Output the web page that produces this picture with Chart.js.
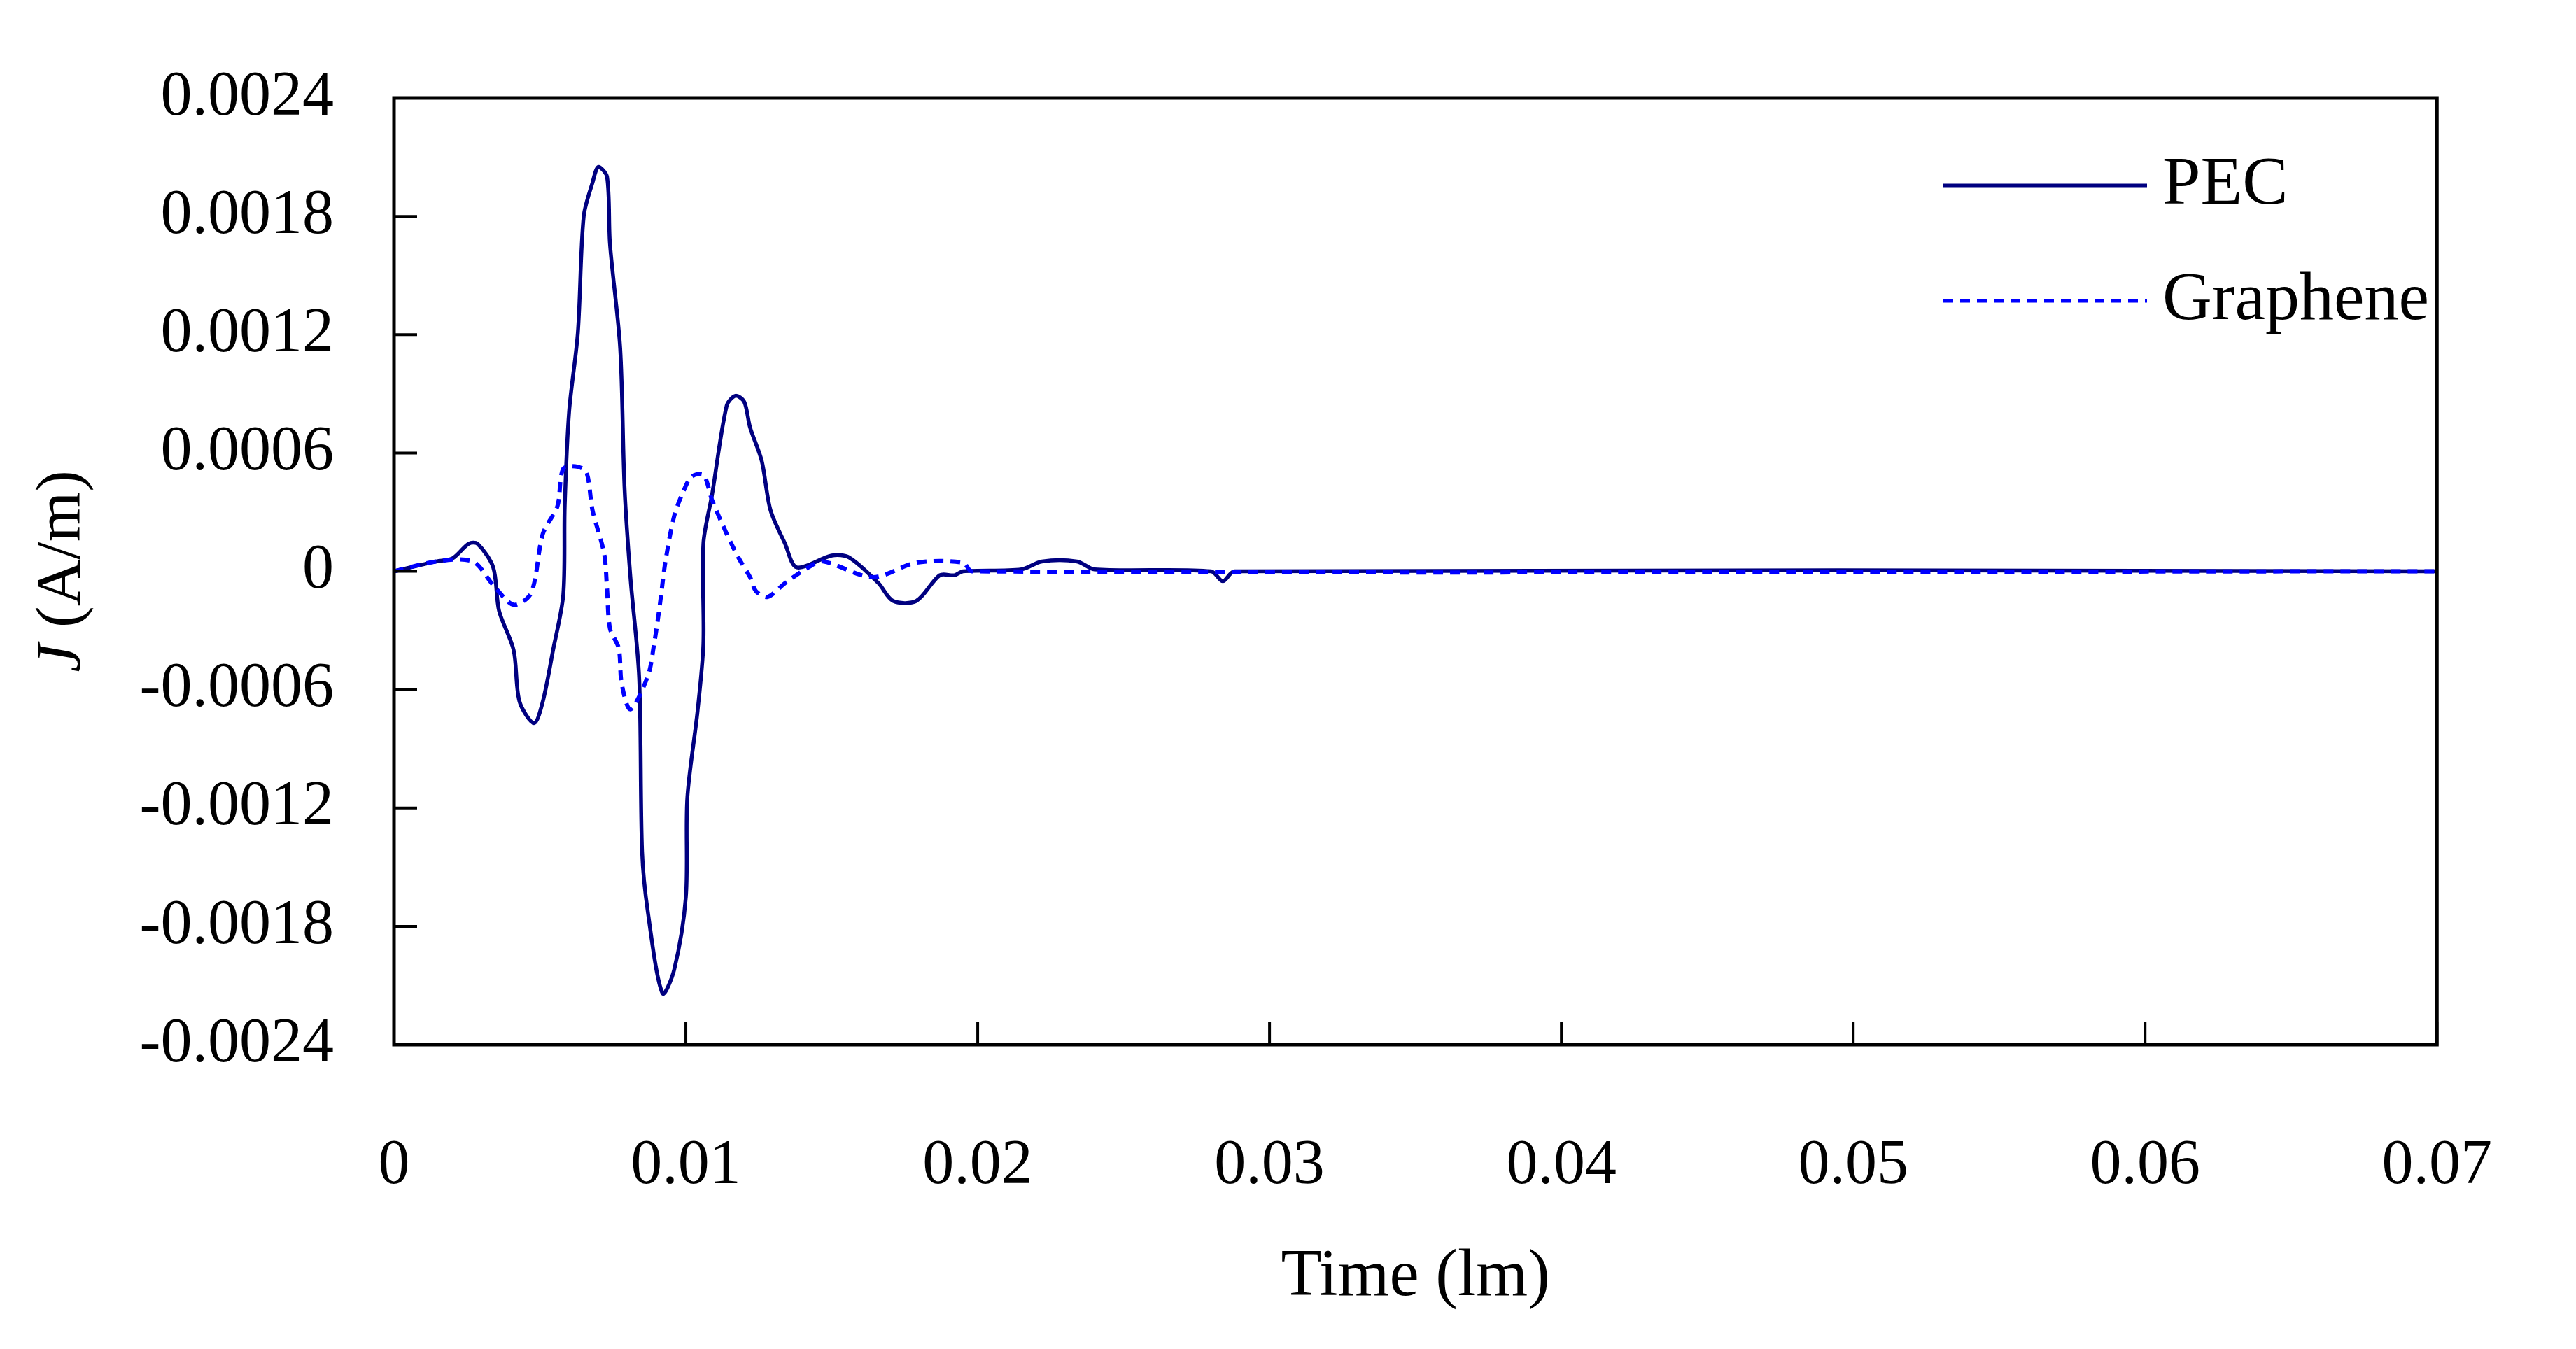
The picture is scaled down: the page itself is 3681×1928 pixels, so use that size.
<!DOCTYPE html>
<html><head><meta charset="utf-8">
<script src="https://cdn.jsdelivr.net/npm/chart.js@4"></script>
<style>html,body{margin:0;padding:0;background:#fff}#w{width:3681px;height:1928px}</style>
</head><body><div id="w"><canvas id="c" width="3681" height="1928"></canvas></div>
<script>
const xTicks = [0,0.01,0.02,0.03,0.04,0.05,0.06,0.07];
const yTicks = [-0.0024,-0.0018,-0.0012,-0.0006,0,0.0006,0.0012,0.0018,0.0024];
const pecT = [0,0.00145,0.002,0.00256,0.00286,0.0034,0.0036,0.0041,0.0043,0.0048,0.0051,0.00545,0.0058,0.00585,0.006,0.0063,0.0065,0.0068,0.007,0.0073,0.0074,0.00775,0.0079,0.0081,0.0084,0.0085,0.0087,0.0092,0.0096,0.01,0.01005,0.0104,0.0106,0.0106,0.0109,0.0114,0.0117,0.012,0.0122,0.0126,0.0129,0.0134,0.0138,0.015,0.0156,0.0166,0.0171,0.0179,0.0187,0.0192,0.0195,0.0215,0.0222,0.0234,0.024,0.028,0.0284,0.0288,0.07];
const pecJ = [0,0.00005,0.000065,0.00014,0.00014,0.00002,-0.0002,-0.0004,-0.00066,-0.00077,-0.00066,-0.0004,-0.00012,0.00033,0.00081,0.00121,0.0018,0.00197,0.00205,0.002,0.00166,0.00113,0.00042,-0.00003,-0.00054,-0.00142,-0.00173,-0.00214,-0.00202,-0.00165,-0.00115,-0.00071,-0.00037,0.00014,0.00039,0.00084,0.00089,0.00086,0.00073,0.00056,0.00031,0.00014,0.00002,0.00008,0.00007,-0.00006,-0.00015,-0.00015,-0.00002,-0.00002,0,0.00001,0.00005,0.00005,0.00001,0,-0.00005,0,0];
const grT = [0,0.00145,0.0027,0.0034,0.0041,0.0047,0.0051,0.0056,0.0058,0.0063,0.0066,0.0068,0.0072,0.0073,0.0074,0.0077,0.0078,0.0081,0.0087,0.0089,0.0091,0.0093,0.0096,0.0099,0.0102,0.0106,0.0109,0.0114,0.0118,0.0122,0.0124,0.0128,0.0134,0.0142,0.0147,0.0164,0.0179,0.0195,0.0198,0.07];
const grJ = [0,0.00005,0.00005,-0.00007,-0.00017,-0.00011,0.00019,0.00033,0.00052,0.00053,0.0005,0.00031,0.00009,-0.00009,-0.00029,-0.00039,-0.00057,-0.0007,-0.00053,-0.00038,-0.00018,0.00005,0.00028,0.0004,0.00048,0.00049,0.00036,0.00019,0.00007,-0.00003,-0.0001,-0.00013,-0.00006,0.00002,0.00005,-0.00003,0.000044,0.000044,0,0];
const seriesNames = ['PEC','Graphene'];
const FONT = '"Liberation Serif", "Times New Roman", serif';
const toPts = (t,v)=>t.map((x,i)=>({x, y:v[i]}));
const fmt = v => v===0 ? '0' : (Math.round(v*1e5)/1e5).toString();

const deco = {
  id:'deco',
  afterDraw(ch){
    const {ctx, chartArea:a, scales:{x,y}} = ch;
    ctx.save();
    ctx.strokeStyle='#000'; ctx.lineWidth=5;
    ctx.strokeRect(a.left,a.top,a.right-a.left,a.bottom-a.top);
    ctx.lineWidth=4;
    yTicks.forEach(v=>{const p=y.getPixelForValue(v);ctx.beginPath();ctx.moveTo(a.left,p);ctx.lineTo(a.left+33,p);ctx.stroke();});
    xTicks.forEach(v=>{const p=x.getPixelForValue(v);ctx.beginPath();ctx.moveTo(p,a.bottom);ctx.lineTo(p,a.bottom-33);ctx.stroke();});
    ctx.fillStyle='#000'; ctx.textBaseline='middle';
    ctx.font='95px '+FONT; ctx.textAlign='center';
    ctx.fillText('Time (lm)',(a.left+a.right)/2,1826);
    ctx.translate(90,(a.top+a.bottom)/2); ctx.rotate(-Math.PI/2);
    ctx.font='italic 92px '+FONT; const w1=ctx.measureText('J').width;
    ctx.font='92px '+FONT; const w2=ctx.measureText(' (A/m)').width;
    ctx.textAlign='left';
    ctx.font='italic 92px '+FONT; ctx.fillText('J',-(w1+w2)/2,0);
    ctx.font='92px '+FONT; ctx.fillText(' (A/m)',-(w1+w2)/2+w1,0);
    ctx.restore();
    ctx.save();
    ctx.font='98px '+FONT; ctx.fillStyle='#000'; ctx.textBaseline='middle';
    const items=[{c:'#000080',d:[],y:265},{c:'#0000ff',d:[14,10],y:430}];
    items.forEach((it,i)=>{ctx.strokeStyle=it.c;ctx.lineWidth=5;ctx.setLineDash(it.d);ctx.beginPath();ctx.moveTo(2777,it.y);ctx.lineTo(3068,it.y);ctx.stroke();ctx.setLineDash([]);ctx.fillText(seriesNames[i],3090,it.y);});
    ctx.restore();
  }
};

new Chart(document.getElementById('c'),{
  type:'line',
  data:{datasets:[
    {label:seriesNames[1],data:toPts(grT,grJ),borderColor:'#0000ff',borderWidth:6,borderDash:[14,10],pointRadius:0,tension:0.3,fill:false},
    {label:seriesNames[0],data:toPts(pecT,pecJ),borderColor:'#000080',borderWidth:5.5,pointRadius:0,tension:0.3,fill:false}
  ]},
  options:{
    responsive:false,animation:false,devicePixelRatio:1,
    layout:{padding:{top:42,right:0,left:0,bottom:0}},
    plugins:{legend:{display:false},tooltip:{enabled:false}},
    scales:{
      x:{type:'linear',min:0,max:0.07,
        afterBuildTicks:s=>{s.ticks=xTicks.map(v=>({value:v}));},
        afterFit:s=>{s.height=435;},
        grid:{display:false,drawTicks:false},border:{display:false},
        ticks:{padding:120,color:'#000',font:{family:FONT,size:90},callback:v=>fmt(v),maxRotation:0}},
      y:{type:'linear',min:-0.0024,max:0.0024,
        afterBuildTicks:s=>{s.ticks=yTicks.map(v=>({value:v}));},
        afterFit:s=>{s.width=563;},
        grid:{display:false,drawTicks:false},border:{display:false},
        ticks:{padding:86,color:'#000',font:{family:FONT,size:90},callback:v=>fmt(v)}}
    }
  },
  plugins:[deco]
});
</script></body></html>
